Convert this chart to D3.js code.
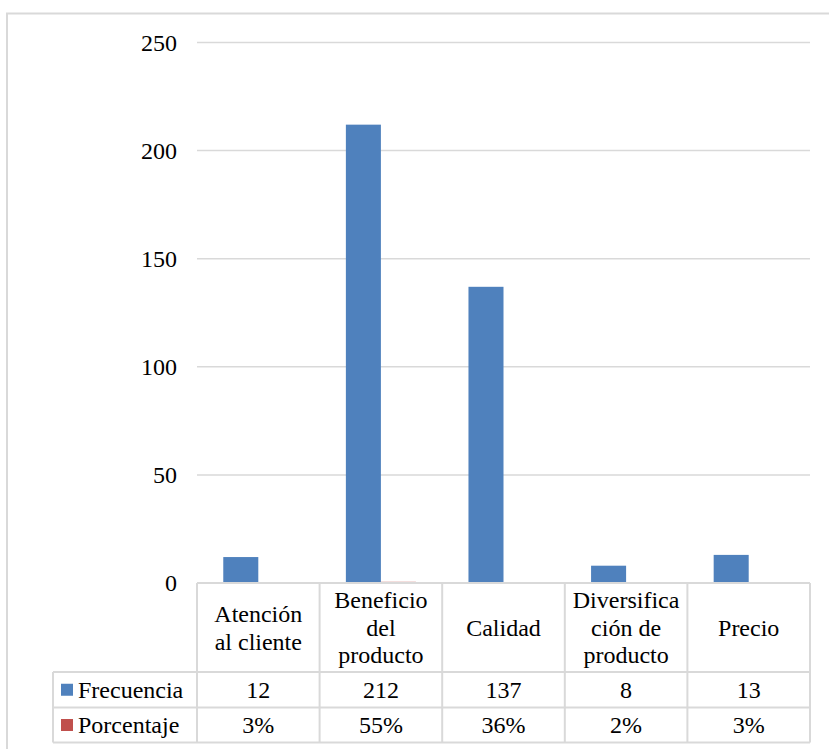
<!DOCTYPE html>
<html>
<head>
<meta charset="utf-8">
<script src="https://cdn.jsdelivr.net/npm/d3@7/dist/d3.min.js"></script>
</head>
<body style="margin:0">
<svg id="chart" width="829" height="749" style="display:block"></svg>
<script>
// Categories and their wrapped header lines in the data table
const categories = ["Atención al cliente", "Beneficio del producto", "Calidad", "Diversificación de producto", "Precio"];
const categoryLines = [["Atención", "al cliente"], ["Beneficio", "del", "producto"], ["Calidad"], ["Diversifica", "ción de", "producto"], ["Precio"]];

// Series
const seriesNames = ["Frecuencia", "Porcentaje"];
const frecuencia = [12, 212, 137, 8, 13];
const porcentaje = [0.03, 0.55, 0.36, 0.02, 0.03];
const porcentajeLabels = ["3%", "55%", "36%", "2%", "3%"];
const seriesColors = ["#4F81BD", "#C0504D"];

// Axis ticks
const yTicks = [0, 50, 100, 150, 200, 250];

const svg = d3.select("#chart");
const fontFamily = "Liberation Serif, Times New Roman, serif";
const fontSize = 24;
const gridColor = "#d9d9d9";

// Outer chart frame (runs off the right and bottom edges)
svg.append("rect")
  .attr("x", 7).attr("y", 13.5)
  .attr("width", 860).attr("height", 780)
  .attr("fill", "#fff")
  .attr("stroke", gridColor).attr("stroke-width", 2);

const plot = { left: 197, right: 810, top: 42.5, bottom: 583 };

const x = d3.scaleBand()
  .domain(categories)
  .range([plot.left, plot.right])
  .padding(0);

const xs = d3.scaleBand()
  .domain(seriesNames)
  .range([0, x.bandwidth()])
  .paddingInner(0)
  .paddingOuter(0.75);

const y = d3.scaleLinear()
  .domain([0, 250])
  .range([plot.bottom, plot.top]);

// Gridlines
svg.append("g")
  .selectAll("line")
  .data(yTicks.filter(d => d > 0))
  .join("line")
  .attr("x1", plot.left).attr("x2", plot.right)
  .attr("y1", d => y(d)).attr("y2", d => y(d))
  .attr("stroke", gridColor).attr("stroke-width", 1.5);

// Y axis labels
const yAxis = d3.axisLeft(y).tickValues(yTicks).tickSize(0).tickPadding(20).tickFormat(d3.format("d"));
const yg = svg.append("g").attr("transform", `translate(${plot.left},0)`).call(yAxis);
yg.attr("font-family", null).attr("font-size", null);
yg.select(".domain").remove();
yg.selectAll("text")
  .style("font-family", fontFamily)
  .style("font-size", fontSize + "px")
  .attr("fill", "#000");

// Bars
const seriesData = [frecuencia, porcentaje];
seriesNames.forEach((name, si) => {
  svg.append("g")
    .selectAll("rect")
    .data(categories.map((c, i) => ({ c, v: seriesData[si][i] })))
    .join("rect")
    .attr("x", d => x(d.c) + xs(name))
    .attr("width", xs.bandwidth())
    .attr("y", d => y(d.v))
    .attr("height", d => y(0) - y(d.v))
    .attr("fill", seriesColors[si]);
});

// Data table
const table = {
  left: 53, headerTop: plot.bottom, headerBottom: 672,
  row1Bottom: 707.5, row2Bottom: 742.5
};
const tg = svg.append("g");
const lineStyle = sel => sel.attr("stroke", gridColor).attr("stroke-width", 2).attr("fill", "none");
const textStyle = sel => sel.style("font-family", fontFamily).style("font-size", fontSize + "px").attr("fill", "#000");

// Horizontal rules
[[plot.left, table.headerTop], [table.left, table.headerBottom], [table.left, table.row1Bottom], [table.left, table.row2Bottom]]
  .forEach(([x0, yy]) => {
    tg.append("line").attr("x1", x0).attr("x2", plot.right).attr("y1", yy).attr("y2", yy).call(lineStyle);
  });
// Vertical rules
tg.append("line").attr("x1", table.left).attr("x2", table.left)
  .attr("y1", table.headerBottom).attr("y2", table.row2Bottom).call(lineStyle);
const colEdges = categories.map(c => x(c)).concat([plot.right]);
colEdges.forEach(xx => {
  tg.append("line").attr("x1", xx).attr("x2", xx)
    .attr("y1", table.headerTop).attr("y2", table.row2Bottom).call(lineStyle);
});

// Category headers
const headerMid = (table.headerTop + table.headerBottom) / 2;
const lineGap = 27.5;
categories.forEach((c, i) => {
  const lines = categoryLines[i];
  const cx = x(c) + x.bandwidth() / 2;
  lines.forEach((ln, li) => {
    tg.append("text")
      .attr("x", cx)
      .attr("y", headerMid + (li - (lines.length - 1) / 2) * lineGap)
      .attr("dy", "0.35em")
      .attr("text-anchor", "middle")
      .call(textStyle)
      .text(ln);
  });
});

// Value rows with legend keys
const rowMids = [(table.headerBottom + table.row1Bottom) / 2, (table.row1Bottom + table.row2Bottom) / 2];
const rowTexts = [frecuencia.map(String), porcentajeLabels];
seriesNames.forEach((name, si) => {
  tg.append("rect")
    .attr("x", 61).attr("y", rowMids[si] - 6)
    .attr("width", 12).attr("height", 12)
    .attr("fill", seriesColors[si]);
  tg.append("text")
    .attr("x", 78).attr("y", rowMids[si])
    .attr("dy", "0.35em")
    .call(textStyle)
    .text(name);
  categories.forEach((c, i) => {
    tg.append("text")
      .attr("x", x(c) + x.bandwidth() / 2)
      .attr("y", rowMids[si])
      .attr("dy", "0.35em")
      .attr("text-anchor", "middle")
      .call(textStyle)
      .text(rowTexts[si][i]);
  });
});
</script>
</body>
</html>
